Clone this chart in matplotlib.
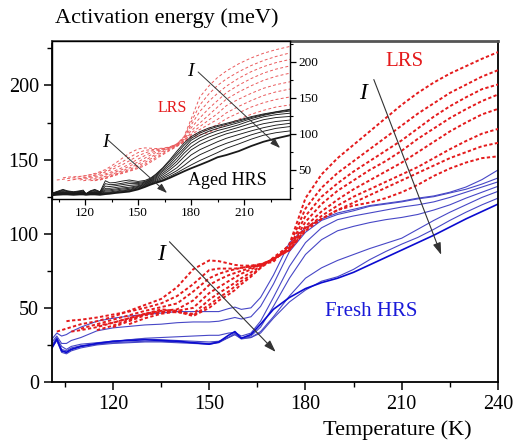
import numpy as np
import matplotlib
matplotlib.use("Agg")
import matplotlib.pyplot as plt
from matplotlib.ticker import MultipleLocator

nan = np.nan
plt.rcParams['font.family'] = ['Liberation Serif', 'DejaVu Serif']

# ---------------- main panel: fresh HRS (blue) and LRS (red) ----------------
temp_main = [101, 102.5, 104, 105.5, 107, 110, 115, 120, 125, 130, 135, 140, 145, 150, 153,
             156, 158, 160, 163, 166, 170, 175, 180, 185, 190, 195, 200, 205, 210, 215,
             220, 225, 230, 235, 240]

hrs_fresh_a = [29, 33, 31, 32, 34, 37, 41, 43, 44.5, 45.5, 46.5, 47.5, 47.5, 47.5, 47.5, 49.5, 50.5, 49, 50, 57,
               72, 94, 104, 110, 114, 116.5, 119, 120.5, 122, 124, 125.5, 128, 131.5, 136.5, 143]
hrs_fresh_b = [27, 31, 26, 26, 28, 30, 34.5, 36.5, 37.5, 38.5, 39, 40, 40.5, 40.5, 41, 42.5, 43.5, 42.5, 44, 51,
               66, 88, 101, 109, 113, 115.5, 118.5, 120, 121.5, 123.5, 125, 127.5, 130, 133.5, 137.6]
hrs_fresh_c = [25, 30, 24, 22, 24, 25.5, 26.5, 27.5, 28.5, 29.5, 30, 30.5, 31, 31.5, 31.5, 33, 33.5, 31, 33, 41,
               57, 78, 94, 104, 109.5, 112, 114, 116, 118, 119.5, 121.5, 124.5, 128, 131.5, 135]
hrs_fresh_d = [24, 29, 22, 21, 23, 24.5, 25.5, 27, 28.5, 29, 28.5, 28, 27.5, 27, 27.5, 30, 32, 29.5, 31, 37,
               51, 70, 86, 96, 102, 105, 107.5, 109.5, 111, 113, 116, 119.5, 124, 128, 132]
hrs_fresh_e = [24, 28, 21, 20, 22, 24, 25.5, 26.5, 27, 27.5, 27.5, 27, 26.5, 26, 27, 30, 32, 29, 30, 34,
               44, 58, 70, 77, 82, 86, 90, 93.5, 97, 103, 109, 114.5, 119.5, 124.5, 128.6]
hrs_fresh_f = [23, 28, 20, 19, 21, 23, 25, 26, 26.5, 27, 27, 26.5, 26, 25.5, 26.5, 30, 33, 29.5, 30, 33,
               43, 54, 62, 68, 71, 76, 82.5, 88, 93, 97.5, 103, 109, 114.5, 119.5, 124]
hrs_fresh_g = [23, 29, 21, 20, 22, 24, 26, 27.5, 28, 28.5, 28, 27.5, 26.5, 25.5, 27, 31.5, 34, 29.5, 32, 39,
               49, 57, 63, 67, 70, 74, 79, 84, 89, 94, 99, 104.5, 110, 115, 120]

lrs_1 = [nan, 34, 35, 36, 37, 39, 41, 44, 48, 52, 56, 64, 76, 82, 81.5, 80, 79, 78.5, 78.5, 79.5,
         81, 93, 124, 140, 151, 160, 169, 178, 187, 195, 202, 208, 213, 218, 222.5]
lrs_2 = [nan, nan, nan, 41, 41.5, 42, 43.5, 45.5, 47.5, 50, 53, 58, 66, 75.5, 76.5, 76.5, 76.5, 77, 78, 79,
         82, 92, 117, 131, 141, 149, 157, 165, 173, 181, 188, 195, 200.5, 206, 210.3]
lrs_3 = [nan] * 5 + [36, 39, 42, 45, 48, 50.5, 53, 61, 70, 73, 75, 76, 77, 78, 79.5, 82.5, 91, 112, 125, 134,
                     142, 149, 156, 163, 171, 179, 186, 192, 197.5, 200.7]
lrs_4 = [nan] * 4 + [34, 35, 37, 40, 43, 46, 48, 49, 55, 65.5, 69, 72, 73.5, 75, 77, 79, 83, 90, 108, 120,
                     129, 136, 143, 149, 156, 164, 171, 178, 184, 189.5, 193.9]
lrs_5 = [nan] * 6 + [38, 40, 43, 46, 49, 48, 50, 60, 64, 68, 70.5, 73, 76, 79, 83, 89, 105, 115, 123, 130,
                     136, 142, 148, 155, 162, 169, 175, 180.5, 184.2]
lrs_6 = [nan] * 6 + [35, 38, 42, 45.5, 47.5, 47, 46, 55.5, 60, 64, 67, 70, 74, 78, 83, 89, 103, 112, 119, 125,
                     130, 135, 140, 145, 151, 157, 162.5, 167.5, 170.7]
lrs_7 = [nan] * 7 + [37, 41, 45, 47, 48, 45, 52, 57, 61, 64.5, 68, 72, 77, 83, 89, 102, 110, 116, 121, 126,
                     131, 136, 141, 146, 151, 155, 159, 161.3]
lrs_8 = [nan] * 8 + [39, 43, 46, 47.5, 44.5, 50, 55, 59, 62, 66, 71, 77, 84, 92, 104, 110, 116, 119, 121, 124,
                     128, 133, 139, 144, 148, 151, 152.2]

# ---------------- inset: aged HRS (black) and LRS (red) ----------------
temp_inset = [101.5, 104, 107.5, 110, 113.5, 117, 119, 120.5, 123, 125.5, 128.5, 131.5, 134, 137, 141,
              145, 150, 154, 157, 160, 164, 168, 172, 176, 180, 185, 190, 195, 200, 207, 214, 221, 228, 236]

hrs_aged_1 = [18, 20, 23, 21, 19.8, 21, 22, 16.6, 21, 23, 19.8, 35, 32, 32.5, 34.5, 36, 34, 35.5, 38.5, 44,
              53, 64, 76, 87, 96, 103, 108, 111.5, 114.5, 119, 123.7, 127.5, 130.5, 134]
hrs_aged_2 = [17.5, 19.5, 22, 20.5, 19, 20.5, 21, 17, 20.5, 22, 19.5, 31, 29.5, 30, 31.5, 33.5, 32.5, 34, 37.5, 43,
              52, 62, 73, 84, 93.5, 101, 106, 110, 113, 117.5, 122.5, 126.5, 130, 133]
hrs_aged_3 = [17, 19, 21, 20, 18.5, 20, 20.5, 17, 20, 21, 19, 27.5, 27, 28, 29.5, 31, 31, 33, 36.5, 41.5,
              50, 59, 70, 80, 91, 98, 103.5, 107.5, 110.8, 115.5, 121, 125.5, 129, 131.5]
hrs_aged_4 = [16.5, 18.5, 20, 19, 18, 19, 19.5, 17, 19, 20, 18.5, 24.5, 24.5, 25.5, 27, 28.5, 29.5, 32, 35.5, 40,
              48, 56, 66, 77, 87, 94.5, 100, 104.5, 107.6, 112.5, 118.5, 123.5, 126.5, 128.5]
hrs_aged_5 = [16, 18, 19, 18.5, 17.5, 18.5, 19, 17, 18.5, 19, 18, 22.5, 22.5, 23.5, 25, 26, 28, 31, 34.5, 38.5,
              45.5, 53, 62, 73, 82, 90, 95.5, 100, 104, 109, 114.5, 119.5, 122.5, 124]
hrs_aged_6 = [16, 17.5, 18.5, 18, 17, 18, 18.5, 17, 18, 18.5, 17.5, 21, 21, 22, 23.5, 24.5, 27, 30, 33.5, 37,
              43, 50, 58, 68, 77.6, 85, 90.5, 95.5, 100, 104.5, 109.5, 114, 117, 119]
hrs_aged_7 = [15.5, 17, 18, 17.5, 16.5, 17.5, 18, 16.5, 17.5, 18, 17, 19.5, 19.5, 20.5, 22, 23, 26, 29, 32.5, 35.5,
              40.5, 46.5, 53, 62, 70.6, 78, 83.5, 89, 93.8, 99, 104, 108.5, 112, 114.5]
hrs_aged_8 = [15.5, 16.5, 17.5, 17, 16.5, 17, 17.5, 16.5, 17, 17.5, 16.5, 18.5, 18.5, 19.5, 21, 22, 25, 28, 31.5, 34,
              38.5, 43.5, 49, 56, 63.7, 71, 76.5, 82, 86.8, 92.5, 98.5, 103.5, 107.5, 110]
hrs_aged_9 = [15, 16, 17, 16.5, 16, 16.5, 17, 16, 16.5, 17, 16, 17.5, 17.5, 18.5, 20, 21, 24, 27, 30.5, 33,
              36.5, 41, 46, 51.5, 56.8, 63, 68.5, 74, 79.9, 86, 92.5, 98, 101.5, 104]
hrs_aged_10 = [15, 15.5, 16, 16, 15.5, 16, 16, 15.5, 16, 16, 15.5, 16.5, 17, 18, 19, 20, 23, 26.5, 29.5, 32,
               35, 39, 43.5, 48, 52.2, 57, 62, 67.5, 70.6, 76, 83, 89, 93.5, 98]

lrs_inset_1 = [nan, 36, 37, 38, 39, 40.5, 41.5, 42, 43.5, 45, 47.5, 50.5, 54, 59, 66, 73, 79, 80.5, 80, 79.5,
               80, 82, 86, 96, 120, 151, 166, 178, 187, 197, 205, 211.5, 216.5, 221]
lrs_inset_2 = [nan, nan, 39, 40, 40.5, 41, 41.5, 42, 43, 44, 46, 48.5, 51.5, 55.5, 61, 67, 74, 77, 78, 78.5,
               79.5, 81.5, 86, 95, 116, 140, 155, 167, 176, 186, 194.5, 201.5, 207, 212]
lrs_inset_3 = [nan, nan, nan, 35, 36.5, 38, 39, 39.5, 41, 42.5, 44.5, 47, 49.5, 52.5, 57, 62.5, 69.5, 73.5, 76, 77.5,
               79, 81, 85.5, 94, 112, 131, 145, 156, 166, 177, 186, 193, 198.5, 203]
lrs_inset_4 = [nan] * 4 + [37, 38, 38.5, 39, 40, 41, 42.5, 44.5, 46.5, 49, 53, 58, 65, 70, 73.5, 76,
                           78.5, 81, 85, 93, 108, 122, 135, 146, 157, 167.5, 176.5, 184, 189.5, 194]
lrs_inset_5 = [nan] * 5 + [36, 37, 37.5, 38.5, 39.5, 41, 43, 45, 47, 50.5, 55, 61, 66.5, 70.5, 74,
                           77.5, 80.5, 84.5, 92, 104, 115, 126, 137, 148, 158, 166.5, 174, 179.5, 184]
lrs_inset_6 = [nan] * 6 + [35, 35.5, 36.5, 37.5, 39, 41, 43, 45.5, 48.5, 52.5, 58, 63, 67.5, 71.5,
                           76, 80, 84, 91, 101, 110, 119, 128, 139, 148, 156, 163, 168, 172]
lrs_inset_7 = [nan] * 8 + [35, 36, 37.5, 39.5, 41.5, 44, 47, 50.5, 55.5, 60.5, 65, 69.5, 74.5, 79,
                           83.5, 90, 99, 106, 113, 120, 129, 138, 146, 153, 158, 162]
lrs_inset_8 = [nan] * 9 + [35, 36.5, 38.5, 40.5, 43, 46, 49, 53.5, 58, 62.5, 67, 72.5, 78, 83, 89,
                           97, 102, 107, 113, 121, 129, 137, 143, 147.5, 151]
lrs_inset_9 = [nan] * 10 + [36, 38, 40, 42.5, 45, 48, 52, 56, 60.5, 65, 71, 77, 82.5, 88.5, 95,
                            98.5, 102, 107, 113, 120, 127, 132.5, 137, 140]

RED = '#e41a1c'
BLUE = '#4747c6'
DARK_BLUE = '#0b0bd0'

fig = plt.figure(figsize=(5.16, 4.45), dpi=100)
ax = fig.add_axes([52 / 516, 1 - 382 / 445, 446 / 516, 341 / 445])

for ys in [hrs_fresh_a, hrs_fresh_b, hrs_fresh_c, hrs_fresh_d, hrs_fresh_e, hrs_fresh_f]:
    ax.plot(temp_main, ys, color=BLUE, lw=0.8, zorder=2)
ax.plot(temp_main, hrs_fresh_g, color=DARK_BLUE, lw=1.2, zorder=2)

for ys in [lrs_1, lrs_2, lrs_3, lrs_4, lrs_5, lrs_6, lrs_7, lrs_8]:
    ax.plot(temp_main, ys, color=RED, lw=1.4, ls=(0, (1.7, 1.2)), zorder=3)

ax.set_xlim(101, 240)
ax.set_ylim(0, 230)
ax.xaxis.set_major_locator(MultipleLocator(30))
ax.xaxis.set_minor_locator(MultipleLocator(15))
ax.yaxis.set_major_locator(MultipleLocator(50))
ax.yaxis.set_minor_locator(MultipleLocator(25))
ax.tick_params(which='major', direction='out', length=6, width=1.1, labelsize=14.5, top=False, right=False)
ax.tick_params(which='minor', direction='out', length=3.5, width=1.0, top=False, right=False)
for sp in ax.spines.values():
    sp.set_linewidth(1.3)
ax.spines['top'].set_color('#555555')
ax.spines['top'].set_linewidth(2)

arrow_kw = dict(arrowstyle='-|>,head_length=0.6,head_width=0.2', color='#333333', lw=0.8,
                mutation_scale=12, shrinkA=0, shrinkB=0)
ax.annotate('', xy=(222.3, 85.8), xytext=(201.3, 204), arrowprops=arrow_kw, zorder=5)
ax.annotate('', xy=(170.7, 20.3), xytext=(137.6, 94.6), arrowprops=arrow_kw, zorder=5)
ax.text(197.9, 194.6, 'I', fontsize=17, fontstyle='italic', ha='center', va='center')
ax.text(135.0, 85.8, 'I', fontsize=17, fontstyle='italic', ha='center', va='center')
ax.text(210.7, 216, 'LRS', color=RED, fontsize=15, ha='center', va='center')
ax.text(200.4, 47.3, 'Fresh HRS', color='#1a1ad8', fontsize=15, ha='center', va='center')

fig.text(55 / 516, 1 - 18 / 445, 'Activation energy (meV)', fontsize=16, ha='left', va='center')
fig.text(397 / 516, 1 - 430 / 445, 'Temperature (K)', fontsize=16, ha='center', va='center')

# ---------------- inset ----------------
axin = fig.add_axes([52 / 516, 1 - 199 / 445, 238 / 516, 158 / 445])
axin.set_facecolor('white')
for ys in [lrs_inset_1, lrs_inset_2, lrs_inset_3, lrs_inset_4, lrs_inset_5,
           lrs_inset_6, lrs_inset_7, lrs_inset_8, lrs_inset_9]:
    axin.plot(temp_inset, ys, color='#ea5a5c', lw=0.7, ls=(0, (3, 2.4)), zorder=2)
for i, ys in enumerate([hrs_aged_1, hrs_aged_2, hrs_aged_3, hrs_aged_4, hrs_aged_5,
                        hrs_aged_6, hrs_aged_7, hrs_aged_8, hrs_aged_9, hrs_aged_10]):
    axin.plot(temp_inset, ys, color='#1a1a1a', lw=1.3 if i == 9 else 0.65, zorder=3)

axin.set_xlim(101.3, 236)
axin.set_ylim(9.7, 228.5)
axin.xaxis.set_major_locator(MultipleLocator(30))
axin.xaxis.set_minor_locator(MultipleLocator(15))
axin.yaxis.set_major_locator(MultipleLocator(50))
axin.yaxis.set_minor_locator(MultipleLocator(25))
axin.yaxis.tick_right()
axin.tick_params(which='major', direction='out', length=4, width=0.9, labelsize=9.5, pad=2)
axin.tick_params(which='minor', direction='out', length=2.5, width=0.8)
axin.tick_params(axis='x', which='both', top=False, bottom=True)
for sp in axin.spines.values():
    sp.set_linewidth(1.0)

inset_arrow = dict(arrowstyle='-|>,head_length=0.5,head_width=0.17', color='#333333', lw=0.7,
                   mutation_scale=12, shrinkA=0, shrinkB=0)
axin.annotate('', xy=(230.4, 80.3), xytext=(184, 185.6), arrowprops=inset_arrow, zorder=5)
axin.annotate('', xy=(166.4, 18), xytext=(133, 91.4), arrowprops=inset_arrow, zorder=5)
axin.text(179.4, 185.6, 'I', fontsize=14, fontstyle='italic', ha='center', va='center')
axin.text(131.3, 88.6, 'I', fontsize=14, fontstyle='italic', ha='center', va='center')
axin.text(169.2, 135.7, 'LRS', color=RED, fontsize=11.5, ha='center', va='center')
axin.text(200.4, 36, 'Aged HRS', color='black', fontsize=13, ha='center', va='center')

fig.savefig('out.png', dpi=100)
